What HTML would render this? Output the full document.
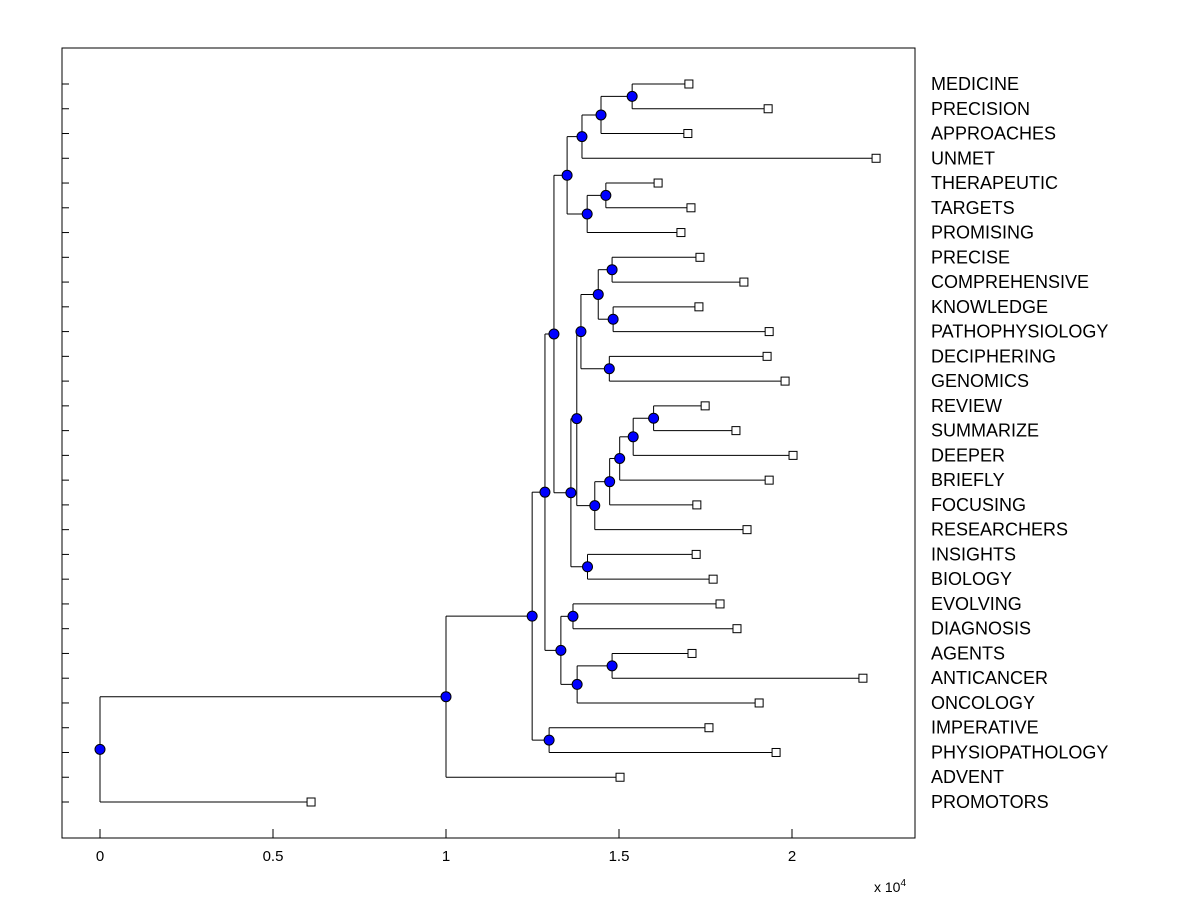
<!DOCTYPE html>
<html><head><meta charset="utf-8"><style>
body{margin:0;background:#fff;}
svg{font-family:"Liberation Sans",Arial,sans-serif;}
</style></head><body>
<svg width="1200" height="900" xmlns="http://www.w3.org/2000/svg">
<rect x="0" y="0" width="1200" height="900" fill="#fff"/>
<g id="plot"></g>
</svg>
<script>
const leafNames = ["MEDICINE","PRECISION","APPROACHES","UNMET","THERAPEUTIC","TARGETS","PROMISING","PRECISE","COMPREHENSIVE","KNOWLEDGE","PATHOPHYSIOLOGY","DECIPHERING","GENOMICS","REVIEW","SUMMARIZE","DEEPER","BRIEFLY","FOCUSING","RESEARCHERS","INSIGHTS","BIOLOGY","EVOLVING","DIAGNOSIS","AGENTS","ANTICANCER","ONCOLOGY","IMPERATIVE","PHYSIOPATHOLOGY","ADVENT","PROMOTORS"];
const leafDist = [1.702,1.931,1.699,2.243,1.613,1.708,1.679,1.734,1.861,1.731,1.934,1.928,1.980,1.749,1.838,2.003,1.934,1.725,1.870,1.723,1.772,1.792,1.841,1.711,2.205,1.905,1.760,1.954,1.503,0.610];
const nodes = [
 ["n_med2",1.538,0,1],["n_prec",1.448,"n_med2",2],["n_med",1.393,"n_prec",3],
 ["n_th2",1.462,4,5],["n_ther",1.408,"n_th2",6],["n_top",1.350,"n_med","n_ther"],
 ["n_pc",1.480,7,8],["n_kp",1.483,9,10],["n_pk",1.440,"n_pc","n_kp"],["n_dg",1.472,11,12],["n_gen",1.390,"n_pk","n_dg"],
 ["n_rs",1.600,13,14],["n_dp",1.541,"n_rs",15],["n_br",1.502,"n_dp",16],["n_fc",1.473,"n_br",17],["n_re",1.430,"n_fc",18],
 ["n_mid",1.378,"n_gen","n_re"],["n_ib",1.409,19,20],["n_5",1.361,"n_mid","n_ib"],
 ["n_4",1.312,"n_top","n_5"],
 ["n_ed",1.367,21,22],["n_aa",1.480,23,24],["n_onc",1.379,"n_aa",25],["n_diag",1.332,"n_ed","n_onc"],
 ["n_3",1.286,"n_4","n_diag"],["n_ph",1.298,26,27],["n_2",1.249,"n_3","n_ph"],
 ["n_1",1.0,"n_2",28],["root",0,"n_1",29]
];
const xTicks = [0,0.5,1,1.5,2];
const xTickLabels = ["0","0.5","1","1.5","2"];

const L=62,R=915,T=48,B=838;
const X = v => 100 + v*346;
const Y0 = 84, DY = (802-84)/29;
const Yl = i => Y0 + i*DY;
const NS="http://www.w3.org/2000/svg";
const g=document.getElementById('plot');
function mk(t,a,p){const e=document.createElementNS(NS,t);for(const k in a)e.setAttribute(k,a[k]);(p||g).appendChild(e);return e;}

let box=mk('rect',{x:L,y:T,width:R-L,height:B-T,fill:'none',stroke:'#000','stroke-width':1});


leafNames.forEach((n,i)=>{
 const t=mk('line',{x1:L,x2:L+7,y1:Yl(i),y2:Yl(i),stroke:'#000'});
 
 
});
xTicks.forEach((v,i)=>{
 const t=mk('line',{x1:X(v),x2:X(v),y1:B,y2:B-9,stroke:'#000'});
 
 
 const tx=mk('text',{x:X(v),y:861,'font-size':15,'text-anchor':'middle'});
 tx.textContent=xTickLabels[i];
 
 
});
let ex=mk('text',{x:874,y:892,'font-size':14});
ex.innerHTML='x 10<tspan dy="-6" font-size="10">4</tspan>';



const pos={};
leafDist.forEach((d,i)=>{pos[i]={x:X(d),y:Yl(i)};});
nodes.forEach(([n,d,a,b])=>{pos[n]={x:X(d),y:(pos[a].y+pos[b].y)/2};});
nodes.forEach(([n,d,a,b])=>{
 const p=pos[n];
 [a,b].forEach(c=>{
  const h=mk('line',{x1:p.x,x2:pos[c].x,y1:pos[c].y,y2:pos[c].y,stroke:'#000','stroke-width':1});
  
  
 });
 const v=mk('line',{x1:p.x,x2:p.x,y1:pos[a].y,y2:pos[b].y,stroke:'#000','stroke-width':1});
 
 
});
leafNames.forEach((n,i)=>{
 const r=mk('rect',{x:pos[i].x-4,y:pos[i].y-4,width:8,height:8,fill:'#fff',stroke:'#000','stroke-width':1});
 
 
 const t=mk('text',{x:931,y:pos[i].y+6,'font-size':18});
 t.textContent=n;
 
 
});
nodes.forEach(([n])=>{
 const c=mk('circle',{cx:pos[n].x,cy:pos[n].y,r:5,fill:'#0000ff',stroke:'#000','stroke-width':1});
 
 
});
</script>
</body></html>
